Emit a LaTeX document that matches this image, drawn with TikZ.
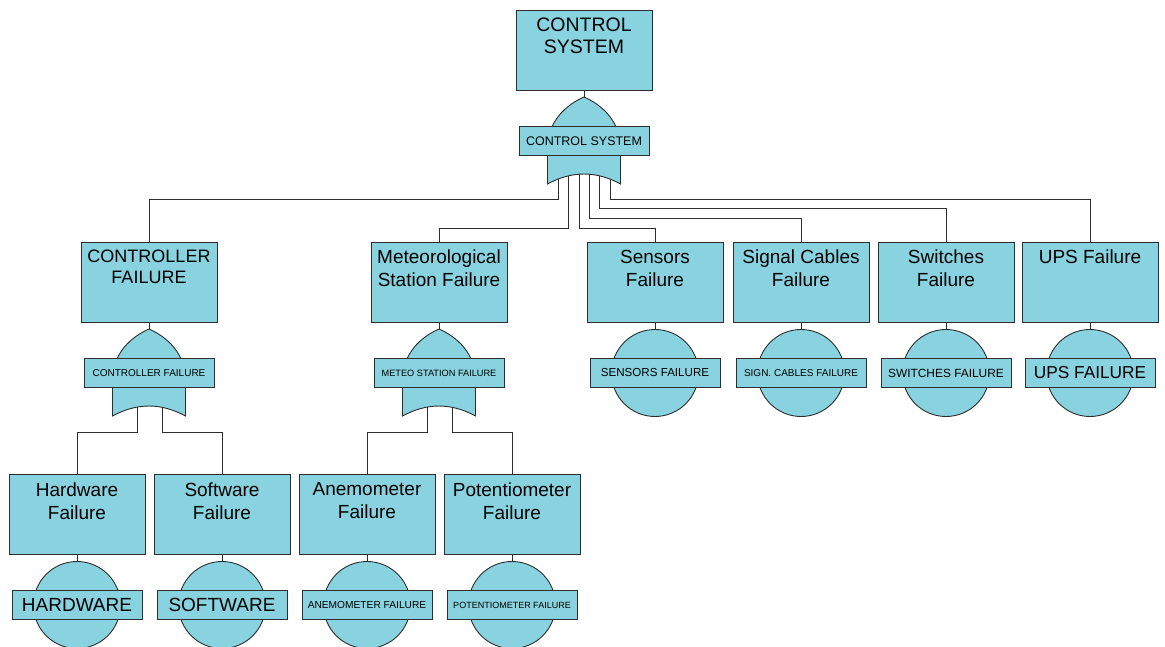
\documentclass[tikz,border=0pt]{standalone}
\usepackage{fontspec}
\setmainfont{Liberation Sans}
\usetikzlibrary{calc,backgrounds}

\definecolor{evfill}{RGB}{137,211,224}
\definecolor{evline}{RGB}{45,45,45}

\newcommand\tagfont[1]{\fontsize{#1}{#1}\selectfont}

\tikzset{
  event/.style={draw=evline, fill=evfill, line width=0.9pt, inner xsep=2pt, inner ysep=8pt,
    font=\fontsize{19}{23}\selectfont,
    execute at begin node={\begin{minipage}[c][64pt][t]{132pt}\centering},
    execute at end node={\end{minipage}}},
  tag/.style={draw=evline, fill=evfill, line width=0.9pt, minimum width=130pt,
    minimum height=29pt, inner sep=0pt},
  basic/.style={circle, draw=evline, fill=evfill, line width=0.9pt, minimum size=87pt, inner sep=0pt},
  gatebody/.style={draw=evline, fill=evfill, line width=0.9pt},
  wire/.style={draw=evline, line width=0.9pt}
}

% OR gate: body first, tag on top (name, centre, font, text)
\newcommand\orgate[4]{%
  \path[gatebody, shift={(#2)}] (-36.5,43) -- (-36.5,8)
    .. controls (-36.5,-20) and (-18,-36) .. (0,-44)
    .. controls (18,-36) and (36.5,-20) .. (36.5,8)
    -- (36.5,43) .. controls (12,29.7) and (-12,29.7) .. (-36.5,43) -- cycle;
  \node[tag, font=#3] (#1) at (#2) {#4};}

\begin{document}
\begin{tikzpicture}[x=1pt, y=-1pt]
  \useasboundingbox (0,0) rectangle (1165,647);

  % top event
  \node[event, font=\fontsize{19.5}{22}\selectfont] (sys) at (584,50) {CONTROL\\SYSTEM};
  \orgate{gSys}{584,141}{\tagfont{12.5}}{CONTROL SYSTEM}

  % second level
  \node[event, font=\fontsize{18}{21}\selectfont] (ctrl) at (149,282) {CONTROLLER\\FAILURE};
  \node[event] (meteo) at (439,282) {Meteorological\\Station Failure};
  \node[event] (sens) at (655,282) {Sensors\\Failure};
  \node[event] (cabl) at (801,282) {Signal Cables\\Failure};
  \node[event] (swit) at (946,282) {Switches\\Failure};
  \node[event] (ups) at (1090,282) {UPS Failure};

  \orgate{gCtrl}{149,373}{\tagfont{10}}{CONTROLLER FAILURE}
  \orgate{gMeteo}{439,373}{\tagfont{9.2}}{METEO STATION FAILURE}
  \node[basic] (bSens) at (655,373) {};
  \node[tag, font=\tagfont{11.6}] (tSens) at (bSens) {SENSORS FAILURE};
  \node[basic] (bCabl) at (801,373) {};
  \node[tag, font=\tagfont{10}] (tCabl) at (bCabl) {SIGN. CABLES FAILURE};
  \node[basic] (bSwit) at (946,373) {};
  \node[tag, font=\tagfont{11.9}] (tSwit) at (bSwit) {SWITCHES FAILURE};
  \node[basic] (bUps) at (1090,373) {};
  \node[tag, font=\tagfont{17.3}] (tUps) at (bUps) {UPS FAILURE};

  % third level
  \node[event] (hw) at (77,514.5) {Hardware\\Failure};
  \node[event] (sw) at (222,514.5) {Software\\Failure};
  \node[event] (anem) at (367,514.5) {Anemometer\\Failure};
  \node[event] (pot) at (512,514.5) {Potentiometer\\Failure};

  \node[basic] (bHw) at (77,605) {};
  \node[tag, font=\tagfont{19}] (tHw) at (bHw) {HARDWARE};
  \node[basic] (bSw) at (222,605) {};
  \node[tag, font=\tagfont{19}] (tSw) at (bSw) {SOFTWARE};
  \node[basic] (bAnem) at (367,605) {};
  \node[tag, font=\tagfont{10.2}] (tAnem) at (bAnem) {ANEMOMETER FAILURE};
  \node[basic] (bPot) at (512,605) {};
  \node[tag, font=\tagfont{9}] (tPot) at (bPot) {POTENTIOMETER FAILURE};

  % connectors, kept behind the shapes
  \begin{scope}[on background layer]
    \draw[wire] (sys) -- (gSys);
    \draw[wire] ([xshift=-26pt]gSys.south) -- ++(0,44) -| (ctrl.north);
    \draw[wire] ([xshift=-16pt]gSys.south) -- ++(0,73) -| (meteo.north);
    \draw[wire] ([xshift=-5pt]gSys.south) -- ++(0,73) -| (sens.north);
    \draw[wire] ([xshift=5pt]gSys.south) -- ++(0,63) -| (cabl.north);
    \draw[wire] ([xshift=15pt]gSys.south) -- ++(0,53) -| (swit.north);
    \draw[wire] ([xshift=26pt]gSys.south) -- ++(0,44) -| (ups.north);

    \draw[wire] (ctrl) -- (gCtrl);
    \draw[wire] (meteo) -- (gMeteo);
    \draw[wire] (sens) -- (bSens);
    \draw[wire] (cabl) -- (bCabl);
    \draw[wire] (swit) -- (bSwit);
    \draw[wire] (ups) -- (bUps);

    \draw[wire] ([xshift=-12pt]gCtrl.south) -- ++(0,44.5) -| (hw.north);
    \draw[wire] ([xshift=13pt]gCtrl.south) -- ++(0,44.5) -| (sw.north);
    \draw[wire] ([xshift=-12pt]gMeteo.south) -- ++(0,44.5) -| (anem.north);
    \draw[wire] ([xshift=13pt]gMeteo.south) -- ++(0,44.5) -| (pot.north);

    \draw[wire] (hw) -- (bHw);
    \draw[wire] (sw) -- (bSw);
    \draw[wire] (anem) -- (bAnem);
    \draw[wire] (pot) -- (bPot);
  \end{scope}
\end{tikzpicture}
\end{document}
